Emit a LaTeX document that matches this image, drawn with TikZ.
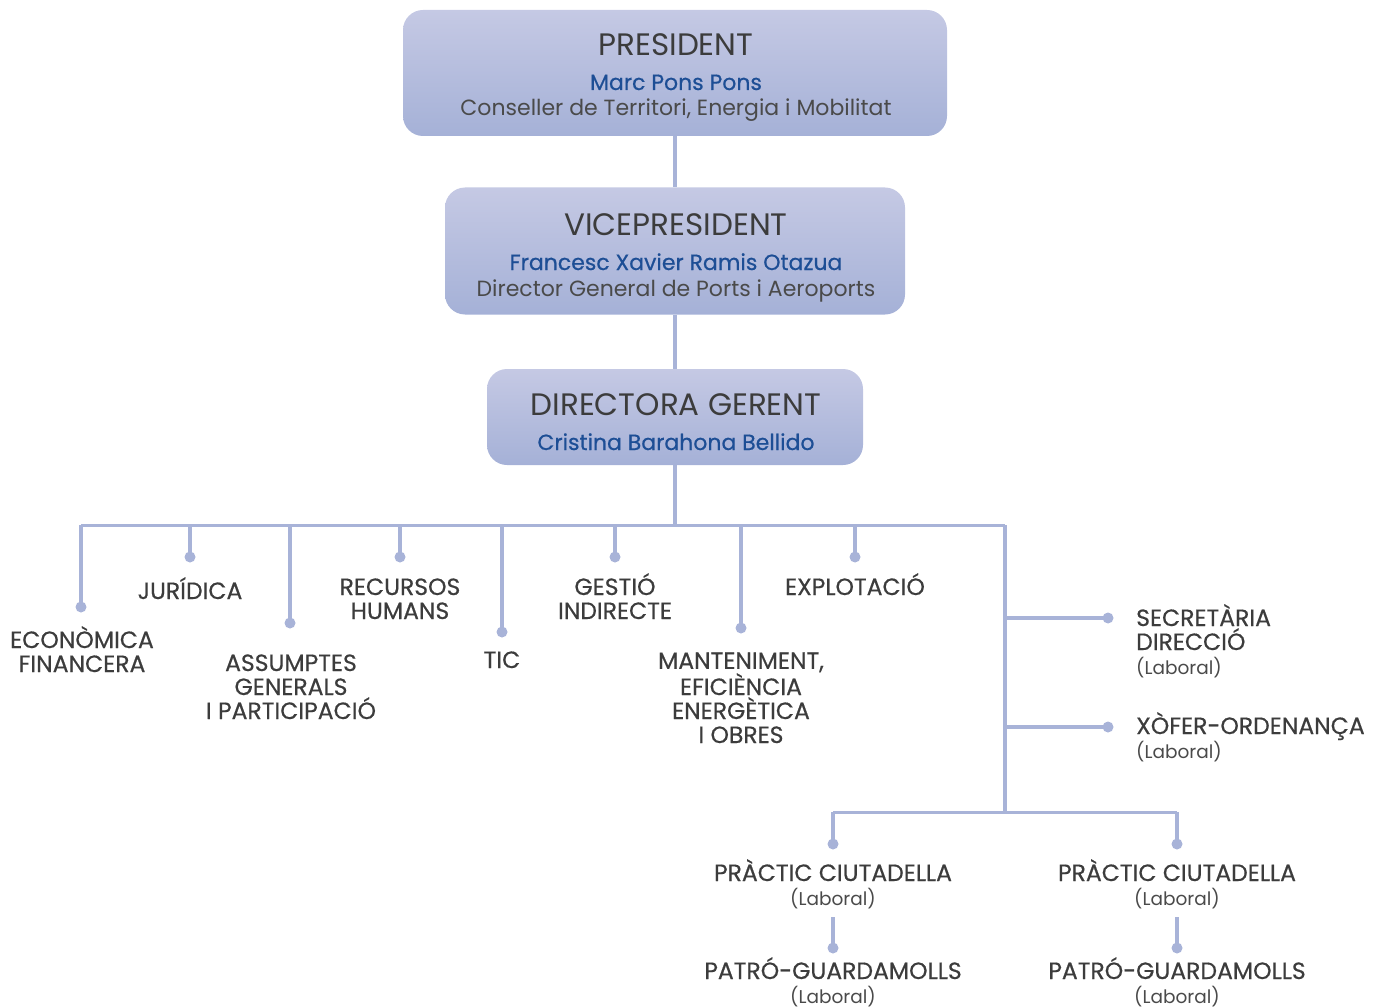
\documentclass[tikz,border=0pt]{standalone}
\usepackage{fontspec}
\setmainfont{Poppins}
\newfontfamily\unitfont{Poppins}[FakeBold=0.5]
\usepackage{tikz}
\usetikzlibrary{positioning}
\definecolor{wirecol}{HTML}{A8B3D8}
\definecolor{boxtop}{HTML}{C5C9E4}
\definecolor{boxbot}{HTML}{A5B1D7}
\definecolor{titlecol}{HTML}{3C3C3C}
\definecolor{namecol}{HTML}{1D4E95}
\definecolor{rolecol}{HTML}{4A4A4A}

\begin{document}
\begin{tikzpicture}[x=1pt,y=-1pt,
  wire/.style={draw=wirecol,line width=4.5pt},
  bus/.style={draw=wirecol,line width=3pt},
  box/.style={rounded corners=20pt,top color=boxtop,bottom color=boxbot,draw=none,inner sep=0pt},
  head/.style={text=titlecol,font=\fontsize{31}{34}\selectfont,anchor=base,inner sep=0pt},
  who/.style={text=namecol,font=\unitfont\fontsize{22}{24}\selectfont,anchor=base,inner sep=0pt},
  job/.style={text=rolecol,font=\fontsize{22}{24}\selectfont,anchor=base,inner sep=0pt},
  unit/.style={text=titlecol,font=\unitfont\fontsize{23.5}{24}\selectfont,align=center,anchor=base,inner sep=0pt},
  lab/.style={text=rolecol,font=\fontsize{18.5}{20}\selectfont,anchor=base,inner sep=0pt}]
\useasboundingbox (0,0) rectangle (1383,1008);

% top boxes
\node [box,minimum width=544pt,minimum height=126pt] (pres) at (675,73) {};
\node [head] (presT) at (676,56) {PRESIDENT};
\node [who] (presN) at (676,90) {Marc Pons Pons};
\node [job] (presJ) at (676,116) {Conseller de Territori, Energia i Mobilitat};

\node [box,minimum width=460pt,minimum height=127pt] (vice) at (675,251) {};
\node [head] (viceT) at (676,236) {VICEPRESIDENT};
\node [who] (viceN) at (676,270) {Francesc Xavier Ramis Otazua};
\node [job] (viceJ) at (676,296) {Director General de Ports i Aeroports};

\node [box,minimum width=376pt,minimum height=96pt] (dir) at (675,417) {};
\node [head] (dirT) at (676,415) {DIRECTORA GERENT};
\node [who] (dirN) at (676,450) {Cristina Barahona Bellido};

\draw [wire] (pres) -- (vice);
\draw [wire] (vice) -- (dir);

% bus
\coordinate (busL) at (81,525);
\coordinate (busR) at (1005,525);
\coordinate (busD) at (1005,812);
\draw [wire] (dir.south) -- (dir.south |- busL);
\draw [bus] (busL) -- (busR);
\draw [wire] (busR) -- (busD);

% dots of the units
\coordinate (dEco) at (81,607);
\coordinate (dJur) at (190,557);
\coordinate (dAss) at (290,623);
\coordinate (dRec) at (400,557);
\coordinate (dTic) at (502,632);
\coordinate (dGes) at (615,557);
\coordinate (dMan) at (741,628);
\coordinate (dExp) at (855,557);
\coordinate (dSec) at (1108,618);
\coordinate (dXof) at (1108,727);
\coordinate (dPr1) at (833,844);
\coordinate (dPr2) at (1177,844);
\coordinate (dPa1) at (833,948);
\coordinate (dPa2) at (1177,948);

\foreach \d in {dEco,dJur,dAss,dRec,dTic,dGes,dMan,dExp}
  \draw [wire] (\d |- busL) -- (\d);
\draw [wire] (dSec -| busR) -- (dSec);
\draw [wire] (dXof -| busR) -- (dXof);
\draw [bus] (dPr1 |- busD) -- (dPr2 |- busD);
\draw [wire] (dPr1 |- busD) -- (dPr1);
\draw [wire] (dPr2 |- busD) -- (dPr2);

% units (base = last line)
\node [unit] (eco) at (82,672) {ECONÒMICA\\FINANCERA};
\node [unit] (jur) at (190,599) {JURÍDICA};
\node [unit] (ass) at (291,719) {ASSUMPTES\\GENERALS\\I PARTICIPACIÓ};
\node [unit] (rec) at (400,619) {RECURSOS\\HUMANS};
\node [unit] (tic) at (502,668) {TIC};
\node [unit] (ges) at (615,619) {GESTIÓ\\INDIRECTE};
\node [unit] (man) at (741,743) {MANTENIMENT,\\EFICIÈNCIA\\ENERGÈTICA\\I OBRES};
\node [unit] (exp) at (855,595) {EXPLOTACIÓ};

\node [unit,anchor=base west,align=left] (sec) at (1136,650) {SECRETÀRIA\\DIRECCIÓ};
\node [lab,anchor=base west] (secL) at (1136,674) {(Laboral)};
\node [unit,anchor=base west] (xof) at (1136,734) {XÒFER-ORDENANÇA};
\node [lab,anchor=base west] (xofL) at (1136,758) {(Laboral)};

\node [unit] (pr1) at (833,881) {PRÀCTIC CIUTADELLA};
\node [lab] (pr1L) at (833,905) {(Laboral)};
\node [unit] (pr2) at (1177,881) {PRÀCTIC CIUTADELLA};
\node [lab] (pr2L) at (1177,905) {(Laboral)};
\node [unit] (pa1) at (833,979) {PATRÓ-GUARDAMOLLS};
\node [lab] (pa1L) at (833,1003) {(Laboral)};
\node [unit] (pa2) at (1177,979) {PATRÓ-GUARDAMOLLS};
\node [lab] (pa2L) at (1177,1003) {(Laboral)};

\draw [wire] (dPa1 |- 0,917) -- (dPa1);
\draw [wire] (dPa2 |- 0,917) -- (dPa2);

\foreach \d in {dEco,dJur,dAss,dRec,dTic,dGes,dMan,dExp,dSec,dXof,dPr1,dPr2,dPa1,dPa2}
  \fill [wirecol] (\d) circle (5.5pt);
\end{tikzpicture}
\end{document}
